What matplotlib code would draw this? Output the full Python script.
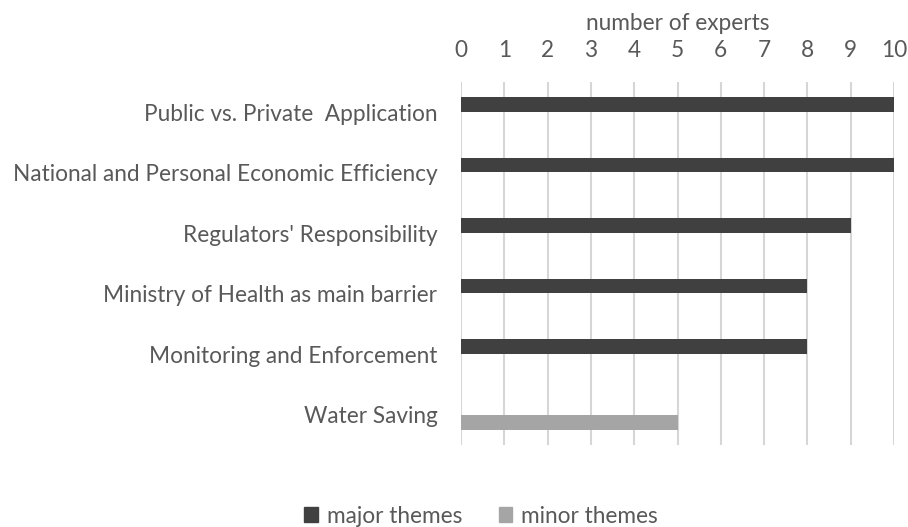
import matplotlib
matplotlib.use("Agg")
import matplotlib.pyplot as plt
import numpy as np
from matplotlib.patches import Patch

categories = ["Public vs. Private  Application",
              "National and Personal Economic Efficiency",
              "Regulators' Responsibility",
              "Ministry of Health as main barrier",
              "Monitoring and Enforcement",
              "Water Saving"]
major = [10, 10, 9, 8, 8, 0]
minor = [0, 0, 0, 0, 0, 5]
xticks = list(range(0, 11))

plt.rcParams['font.family'] = ['Lato', 'DejaVu Sans']
txt = '#595959'
fs = 16.3

fig = plt.figure(figsize=(9.08, 5.27), dpi=100)
ax = fig.add_axes([461/908, 1-445/527, (894-461)/908, (445-82)/527])

y = np.arange(len(categories))
h = 0.24
off = 0.125
ax.barh(y - off, major, height=h, color='#404040', label='major themes', zorder=3)
ax.barh(y + off, minor, height=h, color='#a5a5a5', label='minor themes', zorder=3)

ax.set_ylim(len(categories) - 0.5, -0.5)
ax.set_xlim(0, 10)
ax.set_xticks(xticks)
ax.xaxis.tick_top()
ax.xaxis.set_label_position('top')
ax.set_xlabel('number of experts', fontsize=fs, color=txt, labelpad=7)
ax.tick_params(axis='x', length=0, labelsize=fs, labelcolor=txt, pad=15)
ax.set_yticks(y)
ax.set_yticklabels(categories, fontsize=fs, color=txt)
ax.tick_params(axis='y', length=0, pad=17)
for s in ax.spines.values():
    s.set_visible(False)
ax.grid(axis='x', color='#d6d6d6', linewidth=1.5, zorder=0)
ax.set_axisbelow(True)

handles = [Patch(color='#404040', label='major themes'), Patch(color='#a5a5a5', label='minor themes')]
fig.legend(handles=handles, loc='lower center', bbox_to_anchor=(0.530, -0.038), ncol=2,
           frameon=False, fontsize=fs, labelcolor=txt, handlelength=0.6, handleheight=0.6,
           columnspacing=1.6, handletextpad=0.4)

fig.savefig('out.png', dpi=100)
